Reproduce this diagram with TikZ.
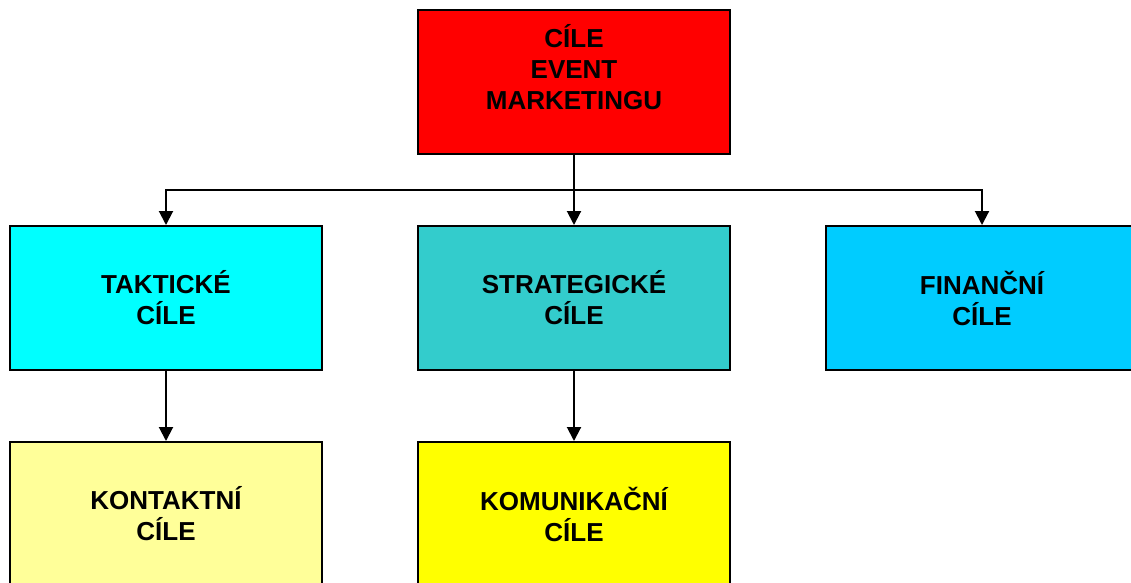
\documentclass[tikz,border=0pt]{standalone}
\usepackage{fontspec}
\setmainfont{Liberation Sans}
\usetikzlibrary{arrows.meta}
\begin{document}
\begin{tikzpicture}[x=1pt,y=1pt,
  goalbox/.style={draw=black, line width=2pt, rectangle, inner sep=0pt,
    minimum width=312pt, minimum height=144pt},
  goaltext/.style={align=center, inner sep=0pt,
    font=\fontsize{26}{31}\selectfont\bfseries},
  link/.style={line width=2pt, -{Triangle[width=14pt,length=14pt]}},
  bar/.style={line width=2pt}]
\useasboundingbox (0,0) rectangle (1131,-582);
\definecolor{boxred}{HTML}{FF0000}
\definecolor{boxcyan}{HTML}{00FFFF}
\definecolor{boxteal}{HTML}{33CCCC}
\definecolor{boxsky}{HTML}{00CCFF}
\definecolor{boxpale}{HTML}{FFFF99}
\definecolor{boxyellow}{HTML}{FFFF00}

% boxes
\node[goalbox, fill=boxred] (top) at (574,-82) {};
\node[goalbox, fill=boxcyan] (tak) at (166,-298) {};
\node[goalbox, fill=boxteal] (str) at (574,-298) {};
\node[goalbox, fill=boxsky] (fin) at (982,-298) {};
\node[goalbox, fill=boxpale] (kon) at (166,-514) {};
\node[goalbox, fill=boxyellow] (kom) at (574,-514) {};

% labels
\node[goaltext] (toptext) at (574,-67) {CÍLE\\EVENT\\MARKETINGU};
\node[goaltext] (taktext) at (166,-298) {TAKTICKÉ\\CÍLE};
\node[goaltext] (strtext) at (574,-298) {STRATEGICKÉ\\CÍLE};
\node[goaltext] (fintext) at (982,-298) {FINANČNÍ\\CÍLE};
\node[goaltext] (kontext) at (166,-514) {KONTAKTNÍ\\CÍLE};
\node[goaltext] (komtext) at (574,-514) {KOMUNIKAČNÍ\\CÍLE};

% connectors
\coordinate (bus) at (574,-190);
\draw[bar] (top.south) -- (bus);
\draw[link] (bus) -| (tak.north);
\draw[link] (bus) -- (str.north);
\draw[link] (bus) -| (fin.north);
\draw[link] (tak.south) -- (kon.north);
\draw[link] (str.south) -- (kom.north);
\end{tikzpicture}
\end{document}
